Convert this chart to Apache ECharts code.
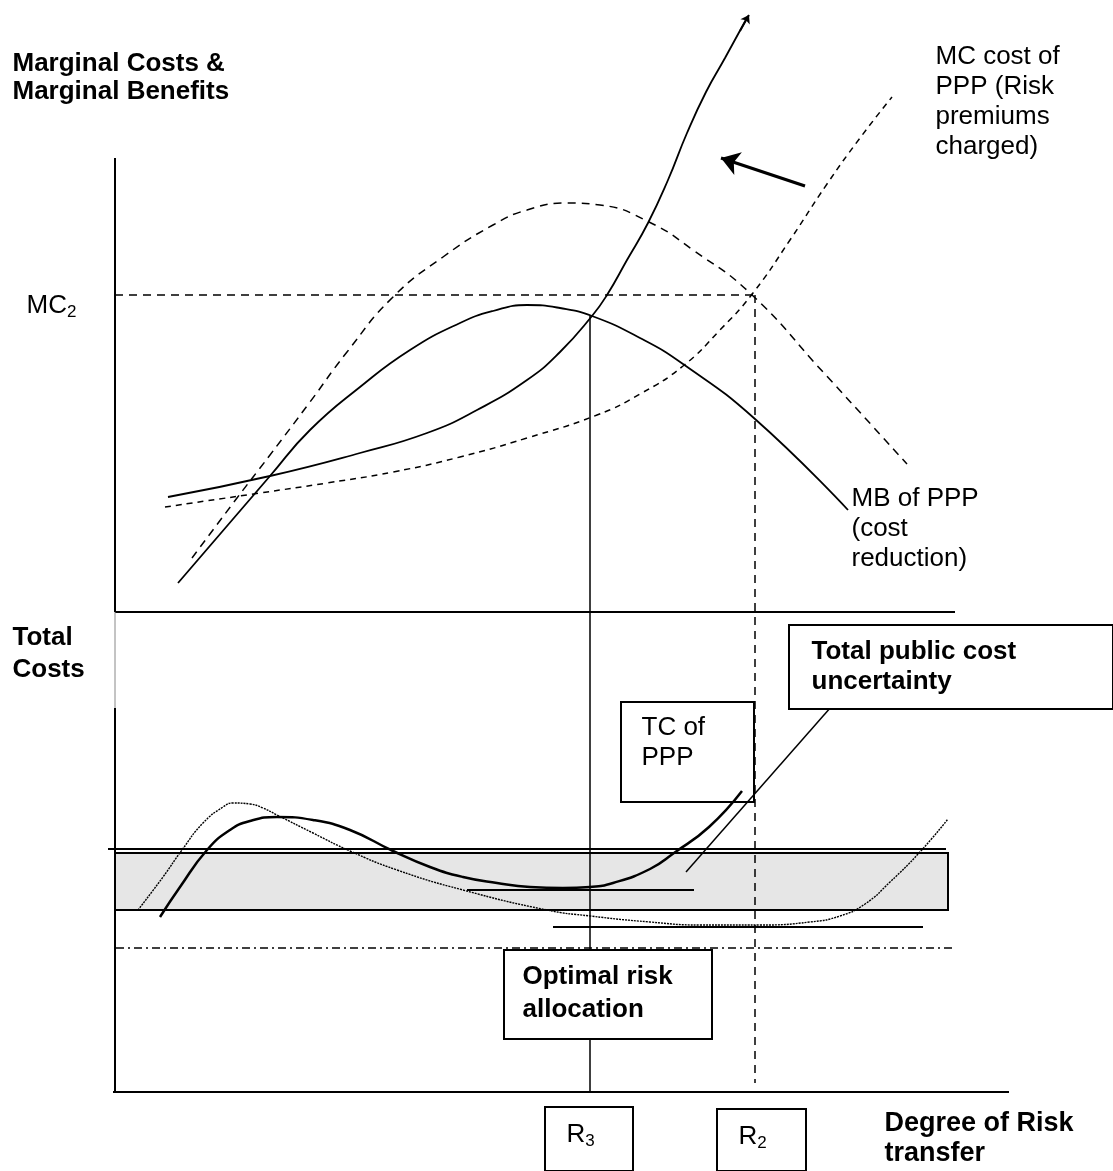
<!DOCTYPE html>
<html><head><meta charset="utf-8">
<script src="https://cdn.jsdelivr.net/npm/echarts@6/dist/echarts.min.js"></script>
<style>html,body{margin:0;padding:0;background:#fff}#c{width:1113px;height:1171px}</style>
</head><body><div id="c"></div>
<script>
// ---- Diagram data (diagram units: x = degree of risk transfer scale, y = cost scale, top-down) ----
const mcCurrent = [[168,497],[270,476],[360,453],[427,433],[477,410],[527,380],[560,352],[592,316],[607,295],[627,260],[648,223],[668,180],[687,133],[706,92],[725,58],[748,16]];
const mcPPP = [[165,507],[260,493],[327,483],[393,472],[460,457],[527,438],[597,415],[640,394],[683,366],[720,330],[753,293],[790,240],[827,184],[860,138],[892,97]];
const mbPPP = [[178,583],[270,476],[310,430],[360,387],[410,350],[460,323],[493,311],[527,305],[560,308],[592,316],[640,338],[683,364],[755,419],[848,510]];
const mbShift = [[192,558],[237,498],[270,455],[310,402],[347,352],[393,297],[443,257],[493,225],[527,210],[567,203],[600,205],[649,222],[693,250],[751,294],[823,372],[907,464]];
const tcPPP = [[160,917],[180,887],[207,850],[230,830],[250,821],[277,817],[313,820],[350,830],[393,851],[430,867],[463,877],[497,883],[530,887],[563,888],[590,887],[613,883],[650,869],[674,853],[709,827],[742,791]];
const totalPublicCost = [[138,910],[163,877],[182,850],[203,823],[223,807],[233,803],[250,804],[263,808],[277,815],[313,833],[350,851],[397,870],[463,890],[547,910],[590,916],[650,922],[700,925],[760,925],[810,922],[840,916],[865,904],[890,882],[919,853],[948,819]];

const mc2Level = [[115,295],[755,295]];
const r3Line = [[590,316],[590,1092]];
const r2Line = [[755,295],[755,1083]];
const upperYAxis = [[115,158],[115,612]];
const upperXAxis = [[115,612],[955,612]];
const lowerYAxisThin = [[115,612],[115,708]];
const lowerYAxis = [[115,708],[115,1092]];
const lowerXAxis = [[113,1092],[1009,1092]];
const bandTop = [[108,849],[946,849]];
const floorLine = [[116,948],[952,948]];
const tcMin = [[467,890],[694,890]];
const totalMin = [[553,927],[923,927]];
const leader = [[831,707],[686,872]];
const shiftArrow = [[805,186],[721,158]];
const mcTip = [[740,31],[749,15]];

const uncertaintyBand = [115,853,948,910];
const tcBox = [621,702,754,802];
const publicBox = [789,625,1130,709];
const optimalBox = [504,950,712,1039];
const r3Box = [545,1107,633,1190];
const r2Box = [717,1109,806,1190];

const boldLabels = [
  [13,64,'Marginal Costs &\nMarginal Benefits'],
  [13,638,'Total\nCosts'],
  [812,652,'Total public cost\nuncertainty'],
  [523,977,'Optimal risk\nallocation'],
  [885,1124,'Degree of Risk\ntransfer']
];
const plainLabels = [
  [936,57,'MC cost of\nPPP (Risk\npremiums\ncharged)'],
  [852,499,'MB of PPP\n(cost\nreduction)'],
  [642,728,'TC of\nPPP']
];
const subLabels = [[27,306,'MC','2'],[567,1135,'R','3'],[739,1137,'R','2']];

// ---- Chart ----
const chart = echarts.init(document.getElementById('c'));
const FONT = '"Liberation Sans", Arial, Helvetica, sans-serif';
const boldLineHeights = [28, 32, 30, 33, 30];
const boldSizes = [26, 26, 26, 26, 27];

function seg(data, width, type, color, z) {
  return {type:'line', data:data, symbol:'none', showSymbol:false, clip:false, silent:true, animation:false,
    z: z || 3, lineStyle:{color: color || '#000', width: width, type: type || 'solid'}};
}
function curve(data, width, type) { const s = seg(data, width, type); s.smooth = 0.5; return s; }
function box(r, fill, z, bw) {
  return {type:'line', data:[], silent:true, animation:false,
    markArea:{silent:true, z:z, animation:false, label:{show:false},
      itemStyle:{color:fill, borderColor:'#000', borderWidth:bw, opacity:1},
      emphasis:{disabled:true},
      data:[[{coord:[r[0],r[1]]},{coord:[r[2],r[3]]}]]}};
}
function arrow(pts, width, size) {
  return {type:'line', data:[], silent:true, animation:false,
    markLine:{silent:true, animation:false, z:6, symbol:['none','arrow'], symbolSize:size, label:{show:false},
      emphasis:{disabled:true},
      lineStyle:{color:'#000', width:width, type:'solid'},
      data:[[{coord:pts[0]},{coord:pts[1]}]]}};
}
function labelItem(p, weight, text, size, lh, rich) {
  return {value:[p[0],p[1]], label:{show:true, position:[0,-lh/2], align:'left', verticalAlign:'top',
    formatter:text, fontFamily:FONT, fontSize:size, fontWeight:weight, lineHeight:lh, color:'#000', opacity:1, rich:rich}};
}
const subRich = {
  m:{fontFamily:FONT, fontSize:26, lineHeight:30, color:'#000'},
  s:{fontFamily:FONT, fontSize:17, lineHeight:17, verticalAlign:'bottom', color:'#000'}
};
const labelData = [];
boldLabels.forEach((l, i) => labelData.push(labelItem(l, 'bold', l[2], boldSizes[i], boldLineHeights[i])));
plainLabels.forEach(l => labelData.push(labelItem(l, 'normal', l[2], 26, 30)));
subLabels.forEach(l => labelData.push(labelItem(l, 'normal', '{m|' + l[2] + '}{s|' + l[3] + '}', 26, 30, subRich)));

const series = [
  box(uncertaintyBand, '#e6e6e6', 1, 2),
  box(tcBox, 'rgba(255,255,255,0)', 1, 2),
  seg(upperYAxis, 2), seg(upperXAxis, 2), seg(lowerYAxisThin, 1, 'solid', '#888'),
  seg(lowerYAxis, 2), seg(lowerXAxis, 2),
  seg(bandTop, 2),
  seg(floorLine, 1.5, [8,4,2,4]),
  seg(mc2Level, 1.5, [8,6]),
  seg(r3Line, 1.5),
  seg(r2Line, 1.5, [8,6]),
  curve(mcCurrent, 1.8),
  curve(mcPPP, 1.5, [6,5]),
  curve(mbPPP, 1.8),
  curve(mbShift, 1.5, [8,6]),
  curve(tcPPP, 2.5),
  curve(totalPublicCost, 1.4, [2,1]),
  seg(tcMin, 2), seg(totalMin, 2),
  seg(leader, 1.5),
  arrow(shiftArrow, 3, 18),
  arrow(mcTip, 1.8, 8),
  box(publicBox, '#fff', 10, 2),
  box(optimalBox, '#fff', 10, 2),
  box(r3Box, '#fff', 10, 2),
  box(r2Box, '#fff', 10, 2),
  {type:'scatter', symbolSize:1, itemStyle:{color:'rgba(0,0,0,0)'}, silent:true, animation:false, z:20, data:labelData}
];

chart.setOption({
  animation:false,
  backgroundColor:'#fff',
  grid:{left:0, right:0, top:0, bottom:0},
  xAxis:{type:'value', min:0, max:1113, show:false},
  yAxis:{type:'value', min:0, max:1171, inverse:true, show:false},
  series:series
});
</script></body></html>
